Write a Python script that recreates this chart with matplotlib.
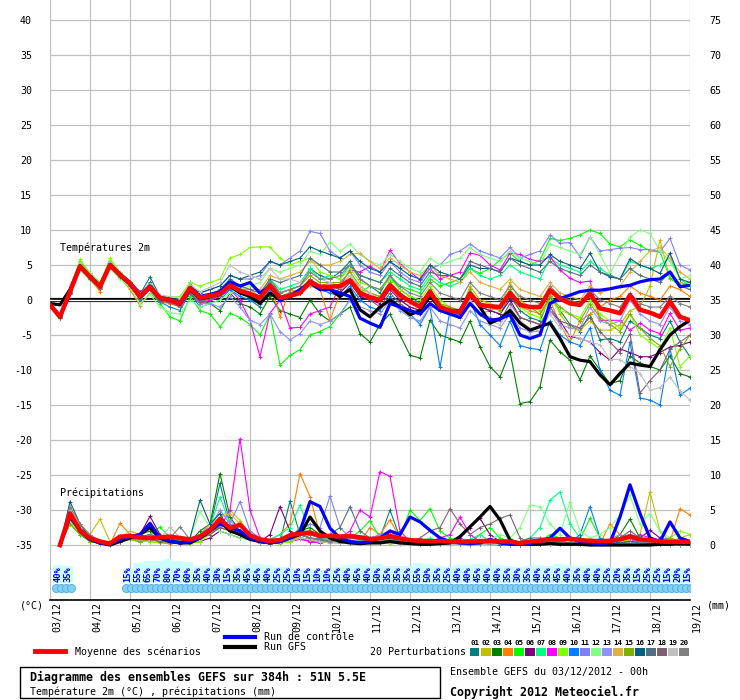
import matplotlib
matplotlib.use('Agg')
import matplotlib.pyplot as plt
import matplotlib.transforms as mtransforms
from matplotlib.lines import Line2D
from matplotlib.patches import Rectangle

dates = ['03/12', '04/12', '05/12', '06/12', '07/12', '08/12', '09/12', '10/12', '11/12',
         '12/12', '13/12', '14/12', '15/12', '16/12', '17/12', '18/12', '19/12']

t_mean = [-0.7, -2.4, 1.2, 4.8, 3.3, 1.9, 5.0, 3.6, 2.4, 0.5, 1.9, 0.3, 0.0,
          -0.5, 1.7, 0.3, 0.6, 0.9, 2.1, 1.3, 0.9, 0.3, 2.1, 0.3, 0.6, 1.0, 2.6, 1.9, 1.9, 2.0, 2.8, 1.0, 0.4,
          0.0, 2.1, 0.7, -0.2, -1.0, 1.2, -1.0, -1.5, -1.7, 0.9, -0.7, -0.9, -1.0, 1.0, -0.7, -1.0,
          -1.0, 1.4, 0.2, -0.5, -0.7, 0.9, -1.2, -1.5, -1.9, 0.7, -1.4, -1.8, -2.4, -0.2, -2.4, -2.9]
t_ctrl = [-0.7, -2.5, 1.1, 4.8, 3.4, 2.0, 5.1, 3.7, 2.5, 0.6, 2.0, 0.3, 0.1,
          -0.4, 1.8, 0.5, 0.8, 1.2, 2.6, 2.0, 2.5, 1.0, 2.0, 0.0, 0.5, 1.5, 2.5, 1.5, 1.5, 1.0, 0.5, -2.6, -3.3,
          -3.9, -0.5, -1.0, -1.5, -2.0, -0.5, -1.5, -2.0, -2.5, -0.5, -2.0, -2.9, -2.7, -2.1, -5.0, -5.5,
          -5.0, -0.5, 0.2, 0.7, 1.2, 1.4, 1.4, 1.6, 1.9, 2.1, 2.6, 2.9, 3.0, 4.0, 1.9, 2.1]
t_gfs = [-0.5, -0.7, 1.5, 4.9, 3.3, 2.0, 5.0, 3.5, 2.3, 0.4, 1.8, 0.2, 0.0,
         -0.6, 1.5, 0.2, 0.5, 0.8, 2.0, 1.0, 0.5, -0.5, 1.0, 0.0, 0.5, 1.0, 2.5, 1.5, 1.5, 0.5, 1.5, -1.4, -2.4,
         -1.0, 0.0, -1.0, -2.1, -1.5, 0.5, -1.0, -1.5, -1.5, 1.0, -1.0, -3.3, -2.7, -1.5, -3.3, -4.3,
         -3.8, -3.3, -5.5, -8.1, -8.6, -8.8, -10.7, -12.1, -10.5, -9.0, -9.3, -9.5, -7.1, -5.0, -3.8, -2.9]

t01 = [-0.6, -2.2, 1.0, 5.2, 3.6, 1.5, 5.3, 3.8, 2.5, 0.8, 3.3, 0.5, 0.2,
       -0.8, 2.5, 0.0, 0.5, 1.5, 3.0, 2.0, 0.0, -1.0, 3.0, 1.0, 1.5, 2.0, 4.5, 3.5, 3.0, 4.0, 5.5, 3.0, 2.0,
       1.0, 3.5, 1.5, 0.5, -0.5, 1.5, -1.0, -2.0, -2.5, 1.0, -1.0, -1.5, -2.0, 0.5, -1.5, -2.5,
       -3.0, 0.5, -1.5, -3.5, -4.5, -2.0, -5.7, -5.5, -6.0, -3.0, -4.0, -5.0, -5.5, -3.0, -6.0, -8.1]
t02 = [-0.8, -2.5, 1.3, 4.5, 3.0, 2.0, 4.6, 3.4, 2.0, 0.3, 1.5, 0.0, -0.3,
       -0.5, 1.5, 0.5, 1.0, 1.0, 2.5, 1.5, 1.5, 0.5, 2.0, 0.5, 1.0, 1.5, 3.0, 2.0, 2.5, 2.0, 3.5, 1.5, 1.0,
       0.5, 2.5, 1.0, 0.0, -1.0, 1.5, -0.5, -1.5, -2.0, 2.0, 0.0, -0.5, -1.0, 2.5, 0.0, -1.0,
       -1.5, 1.0, -2.0, -4.0, -4.3, -3.0, -4.3, -4.3, -3.5, -1.5, -1.0, 2.0, 8.6, 3.0, 2.5, 2.0]
t03 = [-0.5, -2.0, 1.5, 5.0, 3.5, 2.3, 5.0, 3.5, 2.2, 0.6, 2.0, 0.4, 0.3,
       -0.2, 1.5, 0.0, -0.5, -1.5, 1.0, -0.5, -1.0, -2.0, 0.5, -1.5, -2.0, -2.5, 0.0, -2.0, -3.0, -2.0, -1.0, -4.8, -6.0,
       -3.5, -2.0, -5.0, -7.9, -8.3, -2.9, -5.0, -5.5, -6.0, -3.0, -6.7, -9.5, -11.0, -7.4, -14.8, -14.5,
       -12.4, -5.7, -7.4, -8.6, -11.4, -8.0, -10.0, -12.0, -11.5, -8.0, -9.0, -9.5, -10.0, -8.0, -10.5, -11.0]
t04 = [-0.9, -2.6, 0.8, 4.6, 3.0, 1.2, 4.8, 3.2, 1.5, -0.8, 1.0, -0.3, -0.5,
       -1.0, 1.0, -0.5, 0.0, 0.5, 2.0, 1.5, 1.0, 0.0, 2.5, -2.4, 1.5, 1.0, 2.0, 1.5, -2.9, 1.0, 3.0, 2.0, 1.0,
       0.5, 2.5, 0.0, -1.0, -1.5, 0.5, -1.5, -2.0, -2.5, 0.0, -2.0, -1.5, -1.0, 1.5, -1.0, -1.5,
       -2.0, 0.0, -3.5, -6.0, -3.0, -2.0, -1.0, 0.0, 0.5, 2.0, 1.0, 0.5, 0.0, 2.0, 1.5, 0.5]
t05 = [-0.6, -2.3, 1.4, 5.5, 3.8, 2.5, 5.5, 3.9, 2.5, 0.5, 1.5, -0.5, -2.4,
       -3.0, 0.5, -1.5, -2.0, -3.8, -1.9, -2.5, -3.5, -5.0, -2.0, -9.3, -7.9, -7.1, -5.0, -4.5, -3.8, -2.0, 0.0, 1.0, 2.0,
       1.5, 3.0, 2.0, 1.5, 1.0, 3.0, 2.0, 2.5, 3.0, 4.5, 3.8, 4.5, 5.7, 6.7, 5.5, 5.0,
       5.7, 8.8, 8.5, 8.8, 9.3, 10.0, 9.5, 8.0, 7.6, 8.6, 7.8, 7.0, 6.9, 3.1, 2.0, 2.6]
t06 = [-0.7, -2.4, 1.1, 4.7, 3.3, 2.0, 4.9, 3.7, 2.6, 1.2, 1.9, 0.4, 0.1,
       -0.3, 1.8, 0.5, 0.8, 1.0, 2.2, 1.2, 0.5, 0.0, 2.0, 0.5, 0.8, 1.0, 2.5, 1.5, 1.5, 1.0, 2.5, 0.5, 0.0,
       -0.5, 1.5, 0.0, -1.0, -1.5, 0.5, -1.5, -2.0, -2.0, 0.5, -1.0, -1.5, -2.0, 0.0, -2.5, -3.0,
       -3.5, -1.5, -3.0, -5.2, -5.5, -6.0, -7.5, -8.6, -7.0, -7.5, -8.1, -8.1, -7.5, -6.7, -6.5, -6.0]
t07 = [-0.8, -2.5, 1.0, 4.4, 3.1, 1.8, 4.7, 3.3, 2.3, 0.2, 1.7, 0.0, -0.2,
       -0.5, 1.2, 0.0, 0.5, 0.5, 1.5, 1.0, 0.5, 0.5, 3.0, 1.5, 2.0, 2.5, 4.5, 3.0, 3.5, 3.0, 5.0, 3.5, 3.0,
       2.5, 4.0, 3.0, 2.0, 1.5, 3.5, 2.5, 2.0, 2.5, 4.5, 3.5, 3.0, 3.5, 5.0, 4.0, 3.5,
       3.0, 6.0, 5.0, 4.5, 4.0, 5.5, 4.5, 3.5, 3.0, 5.5, 5.0, 4.5, 5.0, 6.0, 3.0, 2.0]
t08 = [-0.6, -2.3, 1.2, 4.9, 3.4, 1.8, 5.1, 3.6, 2.4, 0.4, 1.6, 0.2, -0.3,
       -1.0, 1.0, -0.5, 0.0, 0.5, 1.5, 0.0, -2.9, -8.1, -1.9, 0.0, -4.0, -3.9, -2.0, -1.5, -1.0, 2.0, 4.3, 4.0, 4.8,
       4.0, 7.1, 5.2, 4.0, 2.9, 4.5, 3.0, 3.5, 4.0, 6.7, 6.4, 5.0, 4.3, 6.7, 6.5, 5.8,
       5.5, 6.2, 4.3, 3.1, 2.5, 2.7, -2.9, -2.9, -2.9, -4.3, -3.3, -4.3, -4.8, -1.9, -4.3, -4.0]
t09 = [-0.5, -2.2, 1.5, 5.8, 3.9, 2.4, 6.0, 4.0, 2.6, 0.5, 2.1, 0.6, 0.4,
       0.5, 2.5, 2.0, 2.5, 3.0, 6.0, 6.5, 7.5, 7.6, 7.6, 6.0, 5.0, 5.5, 6.0, 4.0, 3.5, 3.0, 4.5, 2.5, 2.0,
       1.5, 3.0, 1.5, 0.5, 0.0, 2.0, 0.0, -1.0, -1.5, 1.0, -0.5, -1.0, -1.5, 1.0, -1.0, -2.0,
       -2.5, 0.0, -1.5, -2.0, -2.5, 0.0, -2.0, -3.0, -4.0, -2.0, -5.0, -6.0, -7.0, -4.0, -9.5, -8.0]
t10 = [-0.7, -2.5, 1.0, 4.8, 3.5, 2.2, 5.2, 3.7, 2.0, 0.0, 1.5, -0.3, -1.0,
       -1.5, 1.0, -1.0, -0.5, 0.0, 1.5, 0.5, 0.0, -0.5, 1.5, 0.0, 0.5, 1.0, 2.5, 1.5, 1.0, 0.5, 2.0, 0.0, -1.0,
       -1.5, 0.5, -1.0, -2.0, -3.5, -1.0, -9.6, -1.5, -2.5, 0.0, -3.5, -5.0, -6.5, -3.0, -6.5, -6.9,
       -7.1, -3.0, -5.0, -6.0, -6.5, -4.0, -10.0, -12.9, -13.6, -6.0, -14.0, -14.3, -15.0, -6.9, -13.6, -12.6]
t11 = [-0.6, -2.3, 1.3, 5.0, 3.6, 2.1, 5.0, 3.8, 2.5, 0.7, 2.2, 0.5, 0.2,
       0.0, 2.0, 1.0, 1.5, 2.0, 3.5, 3.0, 3.0, 3.5, 5.5, 5.0, 6.0, 7.0, 9.8, 9.5, 7.0, 6.0, 7.0, 5.0, 4.0,
       3.5, 5.5, 4.0, 3.0, 2.5, 4.5, 5.0, 6.5, 7.0, 8.0, 7.0, 6.5, 6.0, 7.5, 6.0, 6.5,
       7.0, 9.3, 8.1, 8.2, 6.2, 9.0, 7.0, 7.2, 7.4, 7.5, 7.2, 7.2, 6.9, 8.8, 5.0, 4.3]
t12 = [-0.9, -2.7, 0.9, 4.3, 2.8, 1.5, 4.5, 3.0, 1.8, -0.5, 0.8, -1.0, -1.8,
       -2.0, 0.0, -1.0, -0.5, 0.0, 1.0, 1.5, 2.0, 2.5, 4.5, 4.0, 4.5, 5.0, 7.0, 6.5, 8.3, 7.0, 8.0, 6.5, 5.5,
       5.0, 6.5, 5.5, 4.5, 4.0, 6.0, 5.0, 5.5, 6.0, 7.5, 6.5, 6.0, 5.5, 7.0, 6.0, 5.5,
       5.0, 8.0, 7.5, 7.0, 6.5, 9.0, 6.5, 3.8, 6.5, 9.0, 10.0, 9.5, 7.0, 5.5, 3.0, 3.5]
t13 = [-0.7, -2.4, 1.2, 4.6, 3.2, 1.7, 4.8, 3.5, 2.2, 0.3, 1.8, 0.1, -0.2,
       -0.8, 1.2, -0.5, -0.5, -1.0, 0.5, -1.0, -2.9, -3.5, -2.0, -4.5, -5.7, -4.8, -3.0, -3.5, -3.0, -2.0, 0.0, -1.0, -1.5,
       -2.0, 0.0, -1.5, -2.5, -3.0, -1.0, -3.0, -3.5, -4.0, -1.5, -3.0, -3.5, -4.0, -2.0, -4.0, -4.5,
       -4.5, -1.5, -3.5, -4.0, -4.0, -1.0, -3.0, -3.5, -3.0, 0.0, -2.0, -3.0, -3.5, -1.0, -3.0, -3.5]
t14 = [-0.8, -2.5, 1.1, 4.7, 3.2, 1.8, 4.9, 3.5, 2.3, 0.6, 2.0, 0.2, 0.0,
       -0.5, 1.5, 0.0, 0.5, 1.0, 2.5, 2.0, 1.5, 1.5, 3.5, 3.0, 3.5, 4.0, 5.5, 5.0, 5.0, 5.5, 6.5, 6.7, 5.5,
       4.5, 6.0, 5.0, 4.0, 3.5, 5.0, 3.5, 3.0, 2.5, 4.0, 2.5, 2.0, 1.5, 3.0, 1.5, 1.0,
       0.5, 2.5, 1.0, 0.5, 0.0, 2.0, 1.0, 1.5, 2.0, 4.0, 5.5, 7.0, 7.5, 6.0, 4.0, 3.0]
t15 = [-0.6, -2.3, 1.3, 4.9, 3.4, 1.9, 5.0, 3.6, 2.5, 0.6, 1.9, 0.3, 0.1,
       -0.4, 1.6, 0.4, 0.7, 1.0, 2.3, 1.5, 1.0, 0.5, 2.5, 1.0, 1.5, 2.0, 3.5, 2.5, 2.5, 2.5, 4.0, 2.0, 1.0,
       0.5, 2.5, 1.0, 0.0, -0.5, 1.5, -0.5, -1.0, -1.5, 1.5, -0.5, -1.0, -1.5, 1.5, -0.5, -1.0,
       -2.0, 0.5, -1.0, -2.0, -3.0, -0.5, -2.5, -3.5, -4.5, -2.0, -4.0, -5.5, -6.5, -9.5, -7.0, -5.0]
t16 = [-0.7, -2.4, 1.2, 5.0, 3.5, 2.0, 5.1, 3.7, 2.4, 0.6, 2.5, 0.5, 0.3,
       0.0, 2.0, 1.0, 1.5, 2.0, 3.5, 3.0, 3.5, 4.0, 5.5, 5.0, 5.5, 6.0, 7.6, 7.0, 6.5, 6.0, 7.0, 5.5, 4.5,
       4.0, 5.5, 4.5, 3.5, 3.0, 5.0, 4.0, 3.5, 3.0, 5.0, 4.5, 4.5, 4.0, 6.0, 5.5, 5.0,
       5.0, 6.5, 5.5, 5.0, 4.5, 6.7, 4.0, 3.3, 3.0, 5.9, 5.0, 4.5, 3.8, 6.7, 3.0, 2.5]
t17 = [-0.7, -2.5, 1.0, 4.6, 3.1, 1.7, 4.8, 3.4, 2.2, 0.3, 1.7, 0.0, -0.2,
       -0.7, 1.3, 0.0, 0.5, 1.0, 2.5, 2.0, 1.5, 1.0, 3.0, 2.5, 3.0, 3.5, 6.0, 5.0, 4.0, 4.0, 5.0, 3.5, 3.0,
       2.5, 4.5, 3.5, 2.5, 2.0, 4.0, 3.5, 3.5, 3.0, 5.5, 5.0, 4.5, 4.0, 6.0, 5.0, 4.5,
       4.0, 5.5, 4.5, 4.0, 3.5, 5.0, 4.0, 3.5, 3.0, 4.5, 3.5, 3.0, 2.5, 4.0, 2.0, 1.5]
t18 = [-0.8, -2.6, 0.9, 4.5, 3.0, 1.6, 4.7, 3.3, 2.0, 0.2, 1.5, -0.2, -0.4,
       -0.9, 1.0, -0.3, 0.2, 0.5, 2.0, 1.0, 0.5, 0.0, 2.0, 0.5, 1.0, 1.5, 3.0, 2.0, 2.0, 1.5, 3.0, 1.0, 0.0,
       -1.0, 1.0, -0.5, -1.5, -2.0, 0.5, -1.5, -2.0, -2.5, 0.0, -2.0, -2.5, -3.0, -0.5, -2.5, -3.0,
       -3.5, -1.0, -3.0, -3.5, -4.0, -2.5, -4.5, -6.0, -7.5, -4.8, -13.3, -11.5, -10.0, -7.0, -6.0, -5.0]
t19 = [-0.6, -2.2, 1.4, 5.3, 3.7, 2.3, 5.4, 3.9, 2.6, 0.9, 2.3, 0.7, 0.5,
       0.2, 2.2, 1.2, 1.8, 2.5, 5.0, 4.0, 3.5, 3.0, 4.5, 3.0, 3.0, 2.5, 4.0, 3.0, 2.5, 2.0, 3.5, 2.0, 1.0,
       0.0, 2.0, 0.5, -0.5, -1.0, 1.0, -1.5, -2.0, -2.5, 0.0, -2.0, -3.0, -3.5, -1.0, -3.0, -4.0,
       -4.5, -2.0, -4.0, -5.0, -5.5, -6.0, -6.4, -8.5, -8.5, -9.5, -10.5, -12.9, -12.5, -11.0, -13.0, -14.3]
t20 = [-0.8, -2.6, 1.0, 4.8, 3.3, 1.9, 5.0, 3.6, 2.4, 0.5, 2.0, 0.3, 0.0,
       -0.5, 1.7, 0.3, 0.6, 0.9, 2.1, 1.3, 0.9, 0.3, 2.5, 1.0, 1.5, 2.0, 4.0, 3.0, 3.0, 3.5, 5.0, 3.0, 2.0,
       1.5, 3.5, 2.0, 1.0, 0.5, 2.5, 1.0, 0.5, 0.0, 2.5, 1.0, 0.5, 0.0, 2.0, 0.5, 0.0,
       -0.5, 2.0, 0.5, 0.0, -0.5, 1.5, 0.0, -0.5, -1.0, 1.0, -0.5, -1.0, -1.0, 0.5, -0.5, -1.0]

# precipitation (mm per 6h), steps 1..64
p_mean = [0, 4.5, 2.1, 1.0, 0.5, 0.2, 1.2, 1.3, 1.1, 1.0, 1.1, 1.2, 1.0, 0.8, 1.2, 2.1,
          3.7, 2.4, 2.9, 1.4, 0.8, 0.6, 0.7, 1.4, 1.6, 1.8, 1.3, 1.3, 1.2, 1.3, 1.1, 0.85,
          0.95, 1.3, 0.95, 0.7, 0.6, 0.55, 0.55, 0.5, 0.5, 0.5, 0.55, 0.6, 0.5, 0.5, 0.25, 0.5,
          0.6, 0.8, 0.8, 0.9, 0.7, 0.6, 0.55, 0.6, 0.8, 1.2, 0.8, 0.7, 0.5, 0.45, 0.45, 0.45]
p_ctrl = [0, 4.0, 2.0, 0.8, 0.3, 0.1, 0.8, 1.2, 1.5, 3.1, 1.0, 0.5, 0.3, 0.5, 1.0, 2.0,
          3.0, 2.5, 2.0, 1.0, 0.5, 0.3, 0.5, 1.0, 2.0, 6.2, 5.5, 2.4, 1.0, 0.5, 0.3, 0.5,
          1.0, 2.0, 1.5, 4.0, 3.3, 2.1, 1.0, 0.5, 0.3, 0.2, 0.3, 0.8, 0.3, 0.1, 0.1, 0.2,
          0.5, 1.0, 2.4, 1.0, 0.5, 0.3, 0.2, 0.3, 4.0, 8.6, 4.5, 1.0, 0.5, 3.3, 1.0, 0.5]
p_gfs = [0, 4.5, 2.0, 0.8, 0.3, 0.0, 0.5, 1.0, 1.5, 2.5, 1.0, 0.5, 0.3, 0.3, 1.0, 2.0,
         3.5, 2.0, 1.5, 0.8, 0.5, 0.3, 0.5, 1.0, 1.5, 4.0, 2.0, 1.0, 0.5, 0.3, 0.2, 0.3,
         0.3, 0.5, 0.3, 0.2, 0.1, 0.1, 0.2, 0.3, 1.2, 2.6, 4.0, 5.5, 3.6, 0.7, 0.2, 0.1,
         0.1, 0.2, 0.1, 0.1, 0.1, 0.0, 0.0, 0.0, 0.0, 0.0, 0.0, 0.0, 0.1, 0.1, 0.2, 0.1]

p01 = [0, 4.8, 2.0, 0.8, 0.3, 0.1, 0.8, 1.0, 0.5, 1.5, 0.8, 1.0, 0.5, 0.3, 1.0, 2.5,
       8.8, 3.0, 2.0, 1.0, 0.3, 0.2, 0.5, 6.3, 1.5, 1.0, 0.5, 1.0, 0.8, 1.5, 0.5, 0.6,
       1.0, 5.0, 1.0, 0.3, 0.2, 0.5, 0.3, 0.2, 0.1, 0.3, 0.2, 0.4, 0.1, 0.2, 0.0, 0.3,
       0.2, 0.5, 1.0, 1.0, 0.5, 0.3, 0.2, 0.1, 0.5, 1.0, 0.3, 0.2, 0.1, 0.0, 0.1, 0.0]
p02 = [0, 3.5, 2.5, 1.5, 3.7, 0.5, 0.5, 1.5, 1.0, 0.8, 0.5, 0.8, 1.2, 0.5, 0.8, 1.5,
       4.0, 5.0, 3.5, 1.5, 0.5, 0.3, 0.8, 1.0, 1.5, 1.0, 0.5, 0.8, 1.0, 0.6, 0.5, 0.3,
       0.5, 1.0, 0.8, 0.5, 0.3, 0.2, 0.5, 0.3, 0.2, 0.1, 0.2, 0.5, 0.3, 0.2, 0.1, 0.2,
       0.3, 0.5, 0.3, 0.2, 0.3, 0.5, 0.2, 0.1, 0.3, 0.8, 1.5, 7.6, 2.0, 0.5, 1.0, 1.5]
p03 = [0, 4.0, 2.0, 0.5, 0.2, 0.0, 1.0, 1.5, 1.5, 2.0, 1.0, 0.5, 0.3, 0.5, 2.0, 3.0,
       10.2, 4.0, 2.0, 1.5, 0.5, 0.3, 0.5, 1.5, 2.0, 2.5, 1.5, 1.0, 0.8, 0.5, 0.5, 0.3,
       0.5, 0.8, 0.5, 0.3, 0.2, 0.1, 0.3, 0.5, 0.5, 0.3, 0.2, 0.1, 0.0, 0.0, 0.1, 0.2,
       0.1, 0.2, 0.1, 0.3, 0.5, 0.2, 0.1, 0.3, 1.5, 3.7, 1.0, 0.3, 0.2, 0.1, 0.0, 0.0]
p04 = [0, 5.0, 1.5, 0.5, 0.2, 0.1, 3.1, 1.5, 0.8, 0.5, 0.3, 0.2, 0.5, 0.3, 0.8, 1.5,
       2.5, 2.0, 1.5, 0.8, 0.5, 0.8, 1.5, 3.0, 10.2, 6.9, 1.5, 0.8, 0.5, 0.3, 0.5, 2.5,
       1.5, 3.6, 1.0, 0.5, 0.3, 0.2, 0.1, 0.2, 0.1, 0.2, 0.3, 0.2, 0.1, 0.0, 0.1, 0.1,
       0.2, 0.3, 0.5, 0.3, 0.2, 0.1, 0.2, 3.0, 1.5, 0.5, 0.3, 0.2, 0.1, 0.5, 5.2, 4.3]
p05 = [0, 3.0, 1.5, 0.5, 0.3, 0.1, 0.5, 1.0, 1.0, 1.5, 2.6, 1.0, 0.5, 0.3, 1.0, 1.5,
       3.0, 2.0, 1.5, 1.0, 0.5, 0.3, 0.5, 1.0, 2.5, 1.5, 1.0, 0.5, 0.8, 1.0, 2.0, 3.5,
       1.0, 0.5, 1.0, 5.0, 3.5, 5.2, 2.0, 1.0, 0.5, 0.3, 1.5, 2.5, 1.0, 0.3, 0.1, 0.2,
       0.5, 1.5, 1.0, 0.5, 0.8, 3.8, 1.0, 0.5, 0.3, 0.5, 0.3, 0.2, 0.5, 1.0, 0.5, 0.3]
p06 = [0, 4.2, 2.0, 1.0, 0.3, 0.1, 0.5, 1.0, 1.5, 4.1, 1.5, 0.8, 0.5, 0.3, 0.5, 1.0,
       2.0, 1.5, 1.0, 0.8, 0.5, 1.5, 5.5, 2.0, 1.0, 0.5, 0.3, 0.5, 0.5, 0.3, 0.5, 0.5,
       0.3, 0.5, 0.3, 0.5, 0.8, 0.5, 0.3, 0.5, 1.0, 2.5, 3.8, 1.5, 0.5, 0.3, 0.1, 0.1,
       0.2, 0.3, 0.2, 0.1, 0.3, 0.5, 0.2, 0.3, 0.5, 1.5, 1.0, 2.1, 1.0, 0.5, 0.3, 0.2]
p07 = [0, 4.5, 2.5, 1.0, 0.5, 0.2, 1.0, 1.5, 1.0, 1.5, 1.0, 1.0, 0.8, 0.5, 1.5, 2.5,
       6.9, 3.0, 2.0, 1.0, 0.5, 0.8, 1.5, 2.5, 5.7, 2.0, 1.0, 0.8, 0.5, 0.5, 0.3, 0.5,
       0.8, 1.0, 0.5, 0.3, 0.5, 1.0, 0.5, 0.3, 0.5, 0.8, 1.5, 0.5, 0.3, 0.2, 0.5, 1.0,
       2.5, 6.4, 7.6, 3.0, 1.0, 0.5, 0.3, 0.2, 0.5, 1.0, 0.5, 0.3, 0.2, 0.1, 0.2, 0.1]
p08 = [0, 3.8, 2.0, 1.0, 0.5, 0.2, 0.5, 0.8, 0.5, 0.8, 0.5, 0.3, 0.2, 0.5, 1.5, 3.0,
       2.5, 5.0, 15.2, 5.0, 1.0, 0.5, 0.3, 0.5, 0.8, 0.5, 0.3, 0.5, 1.0, 2.0, 5.0, 4.0,
       10.5, 9.8, 2.0, 0.5, 0.3, 0.5, 1.0, 1.5, 4.0, 1.5, 0.5, 0.3, 0.2, 0.1, 0.1, 0.2,
       0.3, 0.2, 0.1, 0.2, 0.3, 0.2, 0.1, 0.1, 0.2, 0.3, 1.5, 1.0, 0.5, 0.3, 0.2, 0.1]
p09 = [0, 3.2, 1.8, 0.8, 0.3, 0.1, 0.5, 0.8, 0.5, 0.5, 0.3, 0.5, 0.3, 0.2, 0.5, 1.5,
       3.5, 2.5, 1.5, 0.8, 0.5, 0.3, 0.2, 0.5, 1.0, 0.8, 0.5, 0.3, 0.5, 0.8, 1.0, 0.5,
       0.3, 0.2, 0.3, 0.5, 0.3, 0.2, 0.1, 0.1, 0.2, 0.3, 0.2, 0.1, 0.1, 0.0, 0.1, 0.2,
       0.3, 0.5, 0.3, 0.2, 0.1, 0.3, 0.5, 0.3, 0.5, 0.8, 1.0, 0.5, 0.3, 1.0, 2.0, 1.5]
p10 = [0, 4.0, 2.0, 0.8, 0.3, 0.1, 0.8, 1.0, 1.0, 1.5, 1.0, 0.8, 0.5, 0.5, 1.0, 2.0,
       3.0, 2.0, 1.5, 1.0, 0.5, 0.3, 0.5, 1.0, 1.5, 1.0, 0.8, 0.5, 0.5, 0.3, 0.3, 0.5,
       1.0, 1.5, 0.8, 0.5, 0.3, 0.2, 0.1, 0.2, 0.1, 0.1, 0.2, 0.3, 0.2, 0.1, 0.1, 0.3,
       0.5, 1.0, 0.5, 0.3, 1.5, 5.5, 1.0, 0.5, 0.3, 0.5, 0.3, 0.2, 0.1, 0.2, 0.1, 0.1]
p11 = [0, 4.5, 2.5, 1.0, 0.5, 0.2, 0.5, 1.0, 0.8, 1.0, 0.8, 0.5, 0.5, 0.8, 1.5, 2.5,
       5.0, 3.0, 6.2, 2.0, 1.0, 0.5, 0.8, 1.5, 2.0, 3.0, 2.5, 7.0, 2.5, 1.0, 0.8, 0.5,
       1.5, 2.0, 1.0, 0.5, 0.3, 0.2, 0.3, 0.5, 0.3, 0.2, 0.1, 0.2, 0.5, 0.3, 0.2, 0.1,
       0.1, 0.3, 0.5, 0.3, 0.2, 0.1, 0.3, 0.5, 1.0, 1.5, 1.0, 0.5, 0.8, 1.0, 0.5, 0.3]
p12 = [0, 3.5, 2.0, 0.8, 0.3, 0.1, 0.5, 0.8, 0.5, 1.0, 0.8, 0.5, 0.3, 1.0, 4.8, 2.5,
       2.0, 1.5, 1.0, 0.8, 0.5, 0.3, 0.5, 1.0, 1.5, 1.0, 0.5, 0.3, 0.5, 0.8, 1.0, 0.5,
       0.3, 0.5, 0.3, 0.2, 0.1, 0.2, 0.3, 0.2, 0.1, 0.2, 0.5, 0.8, 1.5, 1.0, 2.5, 5.7,
       5.5, 3.0, 1.5, 6.2, 2.0, 1.0, 1.5, 2.5, 4.3, 7.1, 3.0, 4.5, 2.0, 1.0, 0.5, 0.3]
p13 = [0, 4.0, 2.2, 1.0, 0.5, 0.2, 0.8, 1.2, 0.8, 1.0, 0.5, 0.3, 0.5, 0.8, 1.2, 2.0,
       2.5, 3.5, 2.0, 1.0, 0.8, 0.5, 0.5, 0.8, 1.0, 1.5, 1.0, 0.5, 0.3, 0.5, 0.8, 1.0,
       1.5, 1.0, 0.5, 0.3, 0.2, 0.3, 0.5, 0.3, 0.2, 0.1, 0.2, 0.3, 0.2, 0.1, 0.0, 0.1,
       0.2, 0.3, 0.2, 0.1, 0.2, 0.3, 0.5, 0.8, 1.5, 1.0, 0.5, 0.3, 0.5, 0.8, 0.3, 0.2]
p14 = [0, 5.5, 2.5, 1.0, 0.5, 0.2, 1.0, 2.0, 1.5, 1.0, 0.8, 0.5, 0.5, 0.8, 1.5, 3.0,
       4.0, 4.5, 3.0, 1.5, 1.0, 0.5, 0.8, 1.5, 1.0, 0.8, 0.5, 0.3, 0.5, 0.5, 0.3, 0.5,
       1.0, 1.5, 0.8, 0.5, 0.3, 0.2, 0.5, 0.3, 0.2, 0.3, 0.5, 0.3, 0.2, 0.1, 0.1, 0.2,
       0.3, 0.5, 0.3, 0.2, 0.1, 0.2, 0.3, 0.5, 1.0, 1.5, 0.8, 0.5, 0.3, 0.5, 0.8, 0.5]
p15 = [0, 3.0, 1.5, 0.5, 0.3, 0.1, 0.5, 0.8, 0.5, 0.8, 0.5, 0.3, 0.3, 0.5, 1.0, 2.0,
       2.5, 2.0, 1.5, 0.8, 0.3, 0.2, 0.3, 0.8, 1.0, 0.8, 0.5, 0.3, 0.3, 0.5, 0.3, 0.3,
       0.5, 0.3, 0.2, 0.1, 0.2, 0.3, 0.2, 0.1, 0.1, 0.0, 0.1, 0.2, 0.1, 0.0, 0.1, 0.1,
       0.2, 0.3, 0.2, 0.1, 0.2, 0.1, 0.3, 0.5, 0.8, 1.0, 0.5, 0.3, 0.5, 1.0, 0.5, 0.3]
p16 = [0, 6.2, 3.0, 1.0, 0.5, 0.2, 1.0, 1.5, 1.0, 1.5, 1.0, 0.8, 0.5, 1.0, 6.4, 3.0,
       4.5, 2.0, 1.5, 1.0, 0.5, 0.3, 0.5, 1.0, 1.5, 1.0, 0.8, 0.5, 1.0, 1.5, 0.8, 0.5,
       0.8, 1.0, 0.5, 0.3, 0.2, 0.3, 0.2, 0.1, 0.1, 0.2, 0.1, 0.1, 0.2, 0.1, 0.0, 0.1,
       0.2, 0.3, 0.5, 1.0, 1.0, 0.5, 0.3, 0.2, 0.3, 0.5, 0.3, 0.2, 0.1, 0.2, 0.1, 0.1]
p17 = [0, 5.0, 2.5, 1.0, 0.5, 0.1, 0.8, 1.2, 1.0, 1.2, 0.8, 0.5, 0.5, 0.8, 1.5, 2.5,
       3.0, 2.0, 1.5, 1.0, 0.5, 0.3, 0.8, 1.5, 2.0, 1.5, 1.0, 1.5, 2.5, 5.5, 2.0, 1.0,
       0.8, 1.5, 1.0, 0.5, 0.3, 0.2, 0.3, 0.2, 0.1, 0.2, 0.3, 0.5, 0.3, 0.2, 0.5, 1.0,
       1.0, 1.0, 0.8, 0.8, 0.5, 0.3, 0.5, 0.5, 1.0, 1.5, 1.0, 0.5, 0.3, 0.5, 0.3, 0.2]
p18 = [0, 4.5, 2.0, 1.0, 0.5, 0.2, 0.5, 1.0, 0.8, 0.8, 0.5, 0.5, 0.3, 0.5, 1.0, 1.5,
       2.5, 2.0, 1.5, 1.0, 0.5, 0.3, 0.5, 1.0, 1.5, 1.0, 0.5, 0.5, 0.8, 0.5, 0.3, 0.5,
       0.3, 0.5, 0.3, 0.5, 1.0, 2.0, 2.5, 5.2, 3.0, 1.5, 2.5, 3.0, 3.8, 4.3, 1.0, 0.3,
       0.2, 0.3, 0.2, 0.1, 0.2, 0.3, 0.5, 0.8, 1.0, 2.0, 1.0, 0.5, 0.3, 0.2, 0.1, 0.1]
p19 = [0, 5.0, 2.5, 1.0, 0.5, 0.2, 1.0, 1.5, 1.0, 1.5, 1.0, 2.6, 1.0, 0.5, 1.0, 2.0,
       3.0, 2.5, 2.0, 1.0, 0.5, 0.3, 0.5, 1.0, 1.0, 0.8, 0.5, 0.3, 0.5, 0.5, 0.3, 0.5,
       0.5, 0.3, 0.2, 0.1, 0.2, 0.1, 0.2, 0.1, 0.1, 0.2, 0.1, 0.0, 0.1, 0.2, 0.1, 0.2,
       0.3, 0.2, 0.1, 0.2, 0.3, 0.2, 0.1, 0.1, 0.2, 0.3, 0.2, 0.1, 0.2, 0.1, 0.1, 0.0]
p20 = [0, 5.5, 3.0, 1.5, 0.5, 0.2, 1.0, 1.5, 1.2, 1.5, 1.0, 1.0, 2.6, 0.8, 1.2, 2.0,
       3.5, 2.5, 2.0, 1.2, 0.8, 0.5, 0.8, 1.2, 1.5, 1.0, 0.8, 0.5, 0.8, 1.0, 0.8, 0.5,
       0.5, 0.8, 0.5, 0.3, 0.2, 0.3, 0.2, 0.3, 0.2, 0.1, 0.2, 0.3, 0.2, 0.1, 0.1, 0.2,
       0.3, 0.5, 0.5, 0.3, 0.2, 0.3, 0.3, 0.5, 0.8, 1.0, 0.5, 0.3, 0.2, 0.3, 0.2, 0.3]

# probability of precipitation per 6h slot (%), None = not shown
pop = [40, 35, None, None, None, None, None,
       15, 55, 65, 70, 80, 70, 60, 35, 40, 30, 15, 35, 45, 45, 40, 25, 25, 10, 15, 10, 10, 25, 40, 45, 40,
       50, 35, 35, 35, 55, 50, 35, 25, 40, 40, 45, 40, 40, 35, 30, 35,
       40, 35, 45, 40, 35, 40, 40, 25, 20, 35, 15, 25, 25, 15, 20, 15]

member_colors = ['#008080', '#c0c000', '#008000', '#ff8000', '#00ff00', '#800080', '#00ff80',
                 '#ff00ff', '#80ff00', '#0080ff', '#8080ff', '#80ff80', '#9090ff', '#e0b040',
                 '#80b000', '#006080', '#507080', '#806070', '#c0c0c0', '#808080']
members_t = [t01, t02, t03, t04, t05, t06, t07, t08, t09, t10,
             t11, t12, t13, t14, t15, t16, t17, t18, t19, t20]
members_p = [p01, p02, p03, p04, p05, p06, p07, p08, p09, p10,
             p11, p12, p13, p14, p15, p16, p17, p18, p19, p20]

MONO = 'DejaVu Sans Mono'
W, H = 740, 700
P0 = -35  # precipitation zero sits on -35 of the temperature scale

fig = plt.figure(figsize=(W / 100, H / 100), dpi=100)
fig.patch.set_facecolor('white')
ax = fig.add_axes([50 / W, 100 / H, 640 / W, 600 / H])
ax.set_xlim(0, 64)
ax.set_ylim(-42.857, 42.857)
ax.set_axisbelow(True)
for s in ['top', 'left', 'right']:
    ax.spines[s].set_visible(False)
ax.spines['bottom'].set_color('black')
ax.spines['bottom'].set_linewidth(1.2)

# grid: days vertical, every 5 units horizontal (only on the scale span)
ax.set_xticks(range(0, 65, 4))
ax.set_xticklabels([])
ax.tick_params(axis='x', length=0)
ax.grid(axis='x', color='#c0c0c0', lw=0.9)
yt = list(range(-35, 41, 5))
for v in yt:
    ax.axhline(v, color='#c0c0c0', lw=0.9, zorder=0.5)
ax.set_yticks(yt)
ax.set_yticklabels([str(v) for v in yt], fontsize=7.2, family=MONO)
ax.tick_params(axis='y', length=0, pad=13)

ax2 = ax.twinx()
ax2.set_ylim(ax.get_ylim())
ax2.set_yticks(yt)
ax2.set_yticklabels([str(v + 35) for v in yt], fontsize=7.2, family=MONO)
ax2.tick_params(axis='y', length=0, pad=14)
for s in ax2.spines.values():
    s.set_visible(False)

# 0 °C double line
ax.axhline(0, color='black', lw=3.0, zorder=1)
ax.axhline(0, color='white', lw=1.0, zorder=1.1)

steps = list(range(len(t_mean)))
psteps = list(range(1, len(p_mean) + 1))

for col, tv, pv in zip(member_colors, members_t, members_p):
    ax.plot(steps, tv, color=col, lw=0.8, marker='+', ms=3, mew=0.7, zorder=2)
    ax.plot(psteps, [v + P0 for v in pv], color=col, lw=0.8, marker='+', ms=3, mew=0.7, zorder=2)

ax.plot(steps, t_gfs, color='black', lw=2.3, zorder=3)
ax.plot(psteps, [v + P0 for v in p_gfs], color='black', lw=2.3, zorder=3)
ax.plot(steps, t_ctrl, color='#0000ff', lw=2.3, zorder=4)
ax.plot(psteps, [v + P0 for v in p_ctrl], color='#0000ff', lw=2.3, zorder=4)
ax.plot(steps, t_mean, color='#ff0000', lw=3.2, zorder=5)
ax.plot(psteps, [v + P0 for v in p_mean], color='#ff0000', lw=3.2, zorder=5)

ax.text(1.0, 7.43, 'Températures 2m', fontsize=7.2, family=MONO, va='center', ha='left', zorder=6)
ax.text(1.0, -27.57, 'Précipitations', fontsize=7.2, family=MONO, va='center', ha='left', zorder=6)

# probability strip below the scale (pixel rows 555..597)
base = -40.43
for i, v in enumerate(pop):
    if v is None:
        continue
    hgt = (12 + v * 0.15) / 7
    ax.add_patch(Rectangle((i + 0.3, base), 1.0, hgt, facecolor='#ccffff',
                           edgecolor='none', zorder=2))
    ax.scatter([i + 0.55, i + 1.05], [-41.14, -41.14], s=34, color='#80d0f0',
               edgecolors='#50a8e0', linewidths=0.6, zorder=3)
    ax.text(i + 0.8, -40.3, f'{v}%', rotation=90, ha='center', va='bottom',
            fontsize=6.3, family=MONO, fontweight='bold', color='#0000ff', zorder=4)

# date labels
trans = mtransforms.blended_transform_factory(ax.transData, ax.transAxes)
for k, d in enumerate(dates):
    ax.text(k * 4 + 0.7, -0.004, d, transform=trans, rotation=90, ha='center', va='top',
            fontsize=7.2, family=MONO)


def fx(x):
    return x / W


def fy(y):
    return 1 - y / H


fig.text(fx(20), fy(606), '(°C)', fontsize=7.2, family=MONO, va='center', ha='left')
fig.text(fx(707), fy(606), '(mm)', fontsize=7.2, family=MONO, va='center', ha='left')

# legend
fig.add_artist(Line2D([fx(35), fx(65)], [fy(651), fy(651)], color='#ff0000', lw=3.5))
fig.text(fx(75), fy(652), 'Moyenne des scénarios', fontsize=7.2, family=MONO, va='center')
fig.add_artist(Line2D([fx(225), fx(255)], [fy(637), fy(637)], color='#0000ff', lw=3.0))
fig.text(fx(264), fy(637), 'Run de contrôle', fontsize=7.2, family=MONO, va='center')
fig.add_artist(Line2D([fx(225), fx(255)], [fy(647), fy(647)], color='black', lw=3.0))
fig.text(fx(264), fy(647), 'Run GFS', fontsize=7.2, family=MONO, va='center')
fig.text(fx(370), fy(652), '20 Perturbations', fontsize=7.2, family=MONO, va='center')
for k, col in enumerate(member_colors):
    x0 = 470 + 11 * k
    fig.add_artist(Rectangle((fx(x0), fy(656)), 9.5 / W, 8 / H, facecolor=col,
                             edgecolor='none', transform=fig.transFigure))
    fig.text(fx(x0 + 4.75), fy(643), f'{k + 1:02d}', fontsize=5.4, family=MONO,
             fontweight='bold', ha='center', va='center')

# footer
fig.add_artist(Rectangle((fx(20), fy(698)), 420 / W, 31 / H, fill=False, edgecolor='black',
                         lw=1.0, transform=fig.transFigure))
fig.text(fx(30), fy(677), 'Diagramme des ensembles GEFS sur 384h : 51N 5.5E', fontsize=8.4,
         family=MONO, fontweight='bold', va='center')
fig.text(fx(30), fy(692), 'Température 2m (°C) , précipitations (mm)', fontsize=7.2,
         family=MONO, va='center')
fig.text(fx(450), fy(672), 'Ensemble GEFS du 03/12/2012 - 00h', fontsize=7.2, family=MONO,
         va='center')
fig.text(fx(450), fy(692), 'Copyright 2012 Meteociel.fr', fontsize=8.4, family=MONO,
         fontweight='bold', va='center')

fig.savefig('out.png', dpi=100)
